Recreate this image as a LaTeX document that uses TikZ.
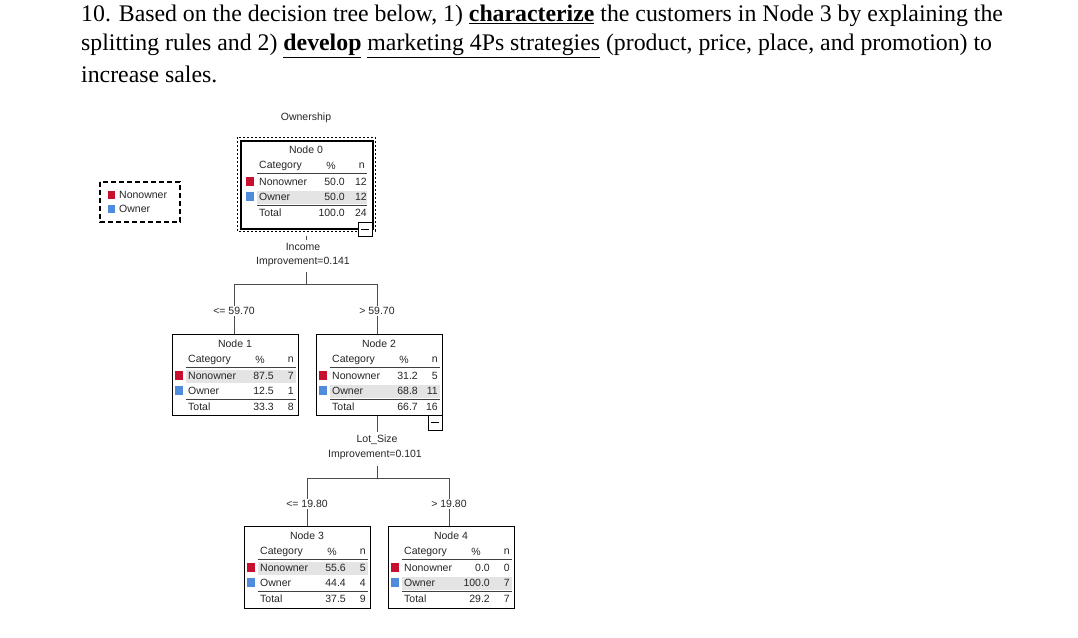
\documentclass[tikz,border=0pt]{standalone}
\usepackage{fontspec}
\setmainfont{Liberation Serif}
\newfontfamily\arialf{Liberation Sans}
\definecolor{nred}{RGB}{200,16,46}
\definecolor{oblue}{RGB}{80,140,220}
\definecolor{hlgray}{RGB}{228,228,228}
\tikzset{lab/.style={font=\arialf\fontsize{10.5}{12}\selectfont,inner sep=0pt,text=black!85},
 tline/.style={draw=black!75,line width=0.8pt},
 qtext/.style={anchor=west,inner sep=0pt,font=\fontsize{23.8}{26}\selectfont}}
\newcommand\TNode[9]{%
 \begin{scope}[shift={(#1,#2)}]
 \fill[hlgray] (14,{#4==1?36:51}) rectangle (124,{#4==1?49:64});
 \node[lab] at (63,10) {#3};
 \node[lab,anchor=west] at (16,26) {Category};
 \node[lab] at (88,26) {\%};
 \node[lab,anchor=east] at (122,26) {n};
 \draw[tline] (14,33) -- (124,33) (14,65) -- (124,65);
 \fill[nred] (3,37) rectangle (11,46);
 \fill[oblue] (3,52) rectangle (11,61);
 \node[lab,anchor=west] at (16,42) {Nonowner};
 \node[lab,anchor=west] at (16,57) {Owner};
 \node[lab,anchor=west] at (16,73) {Total};
 \node[lab,anchor=east] at (102,42) {#5};
 \node[lab,anchor=east] at (102,57) {#7};
 \node[lab,anchor=east] at (102,73) {#9};
 \end{scope}}
\begin{document}
\begin{tikzpicture}[x=1pt,y=-1pt]
\useasboundingbox (0,0) rectangle (1078,637);
\fill[white] (0,0) rectangle (1078,637);
\node[qtext] (q1) at (81,16) {10. Based on the decision tree below, 1) \textbf{\underline{characterize}} the customers in Node 3 by explaining the};
\node[qtext] (q2) at (81,46) {splitting rules and 2) \textbf{\underline{develop}} \underline{marketing 4Ps strategies} (product, price, place, and promotion) to};
\node[qtext] (q3) at (81,74) {increase sales.};
% legend
\draw[dash pattern=on 5pt off 3pt,line width=1.3pt] (100,182) rectangle (180,222);
\fill[nred] (108,191) rectangle (115,199);
\fill[oblue] (108,205) rectangle (115,213);
\node[lab,anchor=west] (l1) at (119,195) {Nonowner};
\node[lab,anchor=west] (l2) at (119,209) {Owner};
\node[lab] (own) at (306,118) {Ownership};
% node boxes
\draw[dash pattern=on 2pt off 2pt,line width=1pt] (237,137) rectangle (375,231);
\node[draw,line width=1.8pt,minimum width=132pt,minimum height=88pt,anchor=north west,inner sep=0pt] (n0) at (240,140) {};
\TNode{243}{140}{Node 0}{2}{50.0}{}{50.0}{}{100.0}
\node[lab,anchor=east] at (367,182) {12};
\node[lab,anchor=east] at (367,197) {12};
\node[lab,anchor=east] at (367,213) {24};
\draw[thick,fill=white] (358,222) rectangle (372,236) (361,229) -- (369,229);
\node[draw,thick,minimum width=126pt,minimum height=81pt,anchor=north west,inner sep=0pt] (n1) at (172,334) {};
\TNode{172}{334}{Node 1}{1}{87.5}{}{12.5}{}{33.3}
\node[draw,thick,minimum width=126pt,minimum height=81pt,anchor=north west,inner sep=0pt] (n2) at (316,334) {};
\TNode{316}{334}{Node 2}{2}{31.2}{}{68.8}{}{66.7}
\draw[thick,fill=white] (428,415) rectangle (442,430) (431,422) -- (439,422);
\node[draw,thick,minimum width=126pt,minimum height=82pt,anchor=north west,inner sep=0pt] (n3) at (244,526) {};
\TNode{244}{526}{Node 3}{1}{55.6}{}{44.4}{}{37.5}
\node[draw,thick,minimum width=126pt,minimum height=82pt,anchor=north west,inner sep=0pt] (n4) at (388,526) {};
\TNode{388}{526}{Node 4}{2}{0.0}{}{100.0}{}{29.2}
\foreach \x/\y/\a/\b/\c in {172/334/7/1/8,316/334/5/11/16,244/526/5/4/9,388/526/0/7/7}{
 \node[lab,anchor=east] at (\x+122,\y+42) {\a};
 \node[lab,anchor=east] at (\x+122,\y+57) {\b};
 \node[lab,anchor=east] at (\x+122,\y+73) {\c};}
% split labels
\node[lab] (s0a) at (303,247) {Income};
\node[lab] (s0b) at (303,262) {Improvement=0.141};
\node[lab] (s2a) at (377,440) {Lot\_Size};
\node[lab] (s2b) at (375,455) {Improvement=0.101};
\coordinate (j0) at (306,284);
\coordinate (j2) at (377,478);
\draw[black!70] (306,236) -- (306,240);
\draw[black!70] (306,272) -- (j0);
\draw[black!70] (234,284) -- (377,284);
\draw[black!70] (234,284) -- (n1.north -| 234,0);
\draw[black!70] (377,284) -- (n2.north -| 377,0);
\node[lab,fill=white,inner sep=1pt] at (234,311) {<= 59.70};
\node[lab,fill=white,inner sep=1pt] at (377,311) {> 59.70};
\draw[black!70] (n2.south -| 377,0) -- (377,432);
\draw[black!70] (377,466) -- (j2);
\draw[black!70] (307,478) -- (449,478);
\draw[black!70] (307,478) -- (n3.north -| 307,0);
\draw[black!70] (449,478) -- (n4.north -| 449,0);
\node[lab,fill=white,inner sep=1pt] at (307,504) {<= 19.80};
\node[lab,fill=white,inner sep=1pt] at (449,504) {> 19.80};
\end{tikzpicture}
\end{document}
